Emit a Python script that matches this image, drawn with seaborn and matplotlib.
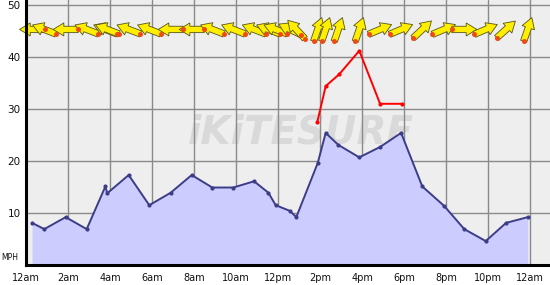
import matplotlib
matplotlib.use("Agg")
import matplotlib.pyplot as plt
import matplotlib.transforms as mtransforms
import numpy as np
import pandas as pd
import seaborn as sns

# ---- data ----
hours = [0.29, 0.87, 1.89, 2.89, 3.78, 3.87, 4.89, 5.87, 6.89, 7.89, 8.87, 9.87,
         10.86, 11.54, 11.89, 12.57, 12.87, 13.89, 14.27, 14.87, 15.87, 16.86,
         17.86, 18.87, 19.9, 20.87, 21.89, 22.86, 23.89]
avg_wind = [8.1, 6.9, 9.2, 6.9, 15.1, 13.8, 17.3, 11.5, 13.9, 17.3, 14.9, 14.9,
            16.1, 13.9, 11.5, 10.4, 9.2, 19.6, 25.4, 23.1, 20.7, 22.7,
            25.4, 15.1, 11.4, 6.9, 4.6, 8.1, 9.2]
# arrow heading (degrees, 0 = pointing right, 90 = pointing up)
wind_dir = [180, 159, 180, 159, 159, 159, 159, 159, 180, 180, 159, 159,
            159, 159, 159, 155, 133, 71, 71, 71, 71, 23,
            23, 43, 23, 0, 23, 42, 71]
gust_hours = [13.87, 14.27, 14.92, 15.87, 16.86, 17.92]
gust_wind = [27.5, 34.4, 36.7, 41.2, 31.0, 31.0]
tick_hours = list(range(0, 25, 2))
tick_labels = ["12am", "2am", "4am", "6am", "8am", "10am", "12pm", "2pm",
               "4pm", "6pm", "8pm", "10pm", "12am"]
y_ticks = [10, 20, 30, 40, 50]
arrow_row = 45.3

sns.set_theme(style="white")
plt.rcParams["font.family"] = ["DejaVu Sans"]

fig = plt.figure(figsize=(5.5, 2.85), dpi=100)
ax = fig.add_axes([26 / 550, 20 / 285, 524 / 550, 265 / 285])
ax.set_facecolor("#eeeeee")
ax.set_xlim(0, 24.95)
ax.set_ylim(0, 50.96)

ax.set_xticks(tick_hours)
ax.set_xticklabels(tick_labels, fontsize=7, color="#111111")
ax.set_yticks(y_ticks)
ax.set_yticklabels([str(v) for v in y_ticks], fontsize=7.5, color="#111111")
ax.grid(True, color="#8a8a8a", linewidth=1)
ax.set_axisbelow(True)
ax.tick_params(axis="both", length=0)
ax.tick_params(axis="x", pad=6)
ax.tick_params(axis="y", pad=4)
for s in ["top", "right"]:
    ax.spines[s].set_visible(False)
for s in ["left", "bottom"]:
    ax.spines[s].set_color("black")
    ax.spines[s].set_linewidth(2.2)
    ax.spines[s].set_zorder(10)

# watermark
ax.text(13.1, 25.4, "iKiTESURF", fontsize=28, fontweight="bold", fontstyle="italic",
        color="#d9d9d9", ha="center", va="center", zorder=0.5)

df = pd.DataFrame({"hour": hours, "wind": avg_wind})
gdf = pd.DataFrame({"hour": gust_hours, "wind": gust_wind})

ax.fill_between(df["hour"], 0, df["wind"], color="#ccccff", zorder=1, linewidth=0)
sns.lineplot(data=df, x="hour", y="wind", ax=ax, color="#3c3c88", linewidth=1.4,
             marker="o", markersize=3, markeredgewidth=0, sort=False, zorder=3)
sns.lineplot(data=gdf, x="hour", y="wind", ax=ax, color="#ff0000", linewidth=1.4,
             marker="o", markersize=3, markeredgewidth=0, sort=False, zorder=3)
ax.set_xlabel("")
ax.set_ylabel("")

fig.text(0.002, (285 - 257) / 285, "MPH", fontsize=5.5, ha="left",
         va="center", color="#111111")

# wind direction arrows
L = 25.0
for h, d in zip(hours, wind_dir):
    dx = L / 2 * np.cos(np.radians(d))
    dy = L / 2 * np.sin(np.radians(d))
    head_tr = mtransforms.offset_copy(ax.transData, fig=fig, x=dx, y=dy, units="dots")
    tail_tr = mtransforms.offset_copy(ax.transData, fig=fig, x=-dx, y=-dy, units="dots")
    ax.annotate("", xy=(h, arrow_row), xycoords=head_tr,
                xytext=(h, arrow_row), textcoords=tail_tr,
                arrowprops=dict(arrowstyle="simple,head_length=0.45,head_width=0.55,tail_width=0.27",
                                mutation_scale=17,
                                fc="#ffee00", ec="#55551a", lw=0.6, shrinkA=0, shrinkB=0),
                zorder=5, annotation_clip=False)
    ax.plot([h], [arrow_row], transform=tail_tr, marker="o", markersize=3.6,
            color="#f04a10", markeredgewidth=0, zorder=6, clip_on=False)

fig.savefig("out.png", dpi=100)
